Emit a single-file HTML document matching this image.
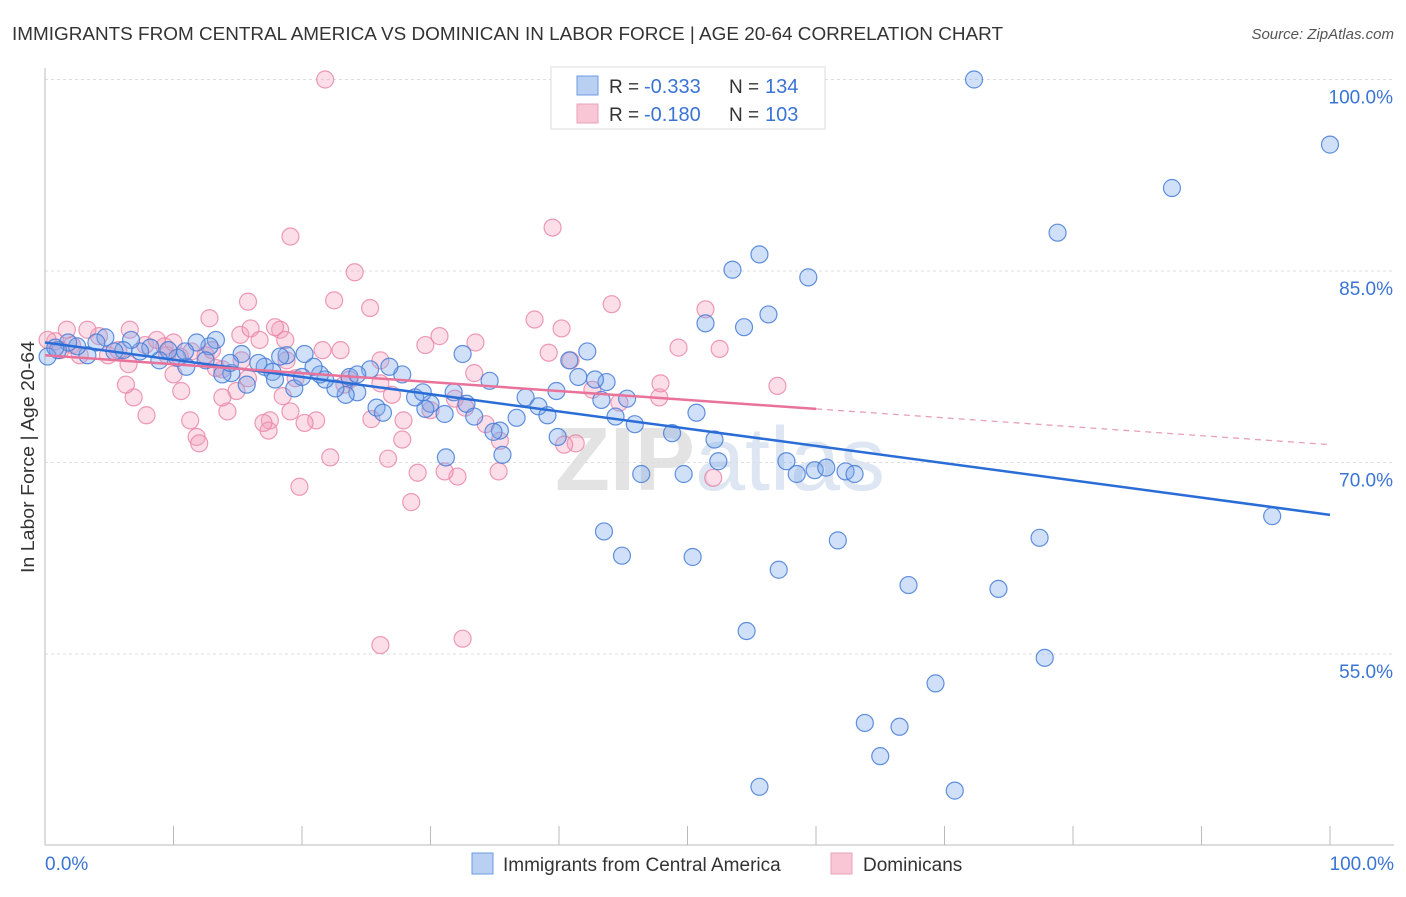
<!DOCTYPE html>
<html><head><meta charset="utf-8">
<style>
body{margin:0;background:#fff;font-family:"Liberation Sans",sans-serif;}
svg text{font-family:"Liberation Sans",sans-serif;}
</style></head>
<body>
<svg id="chart" width="1406" height="892" viewBox="0 0 1406 892" xmlns="http://www.w3.org/2000/svg">
<text x="12" y="40" font-size="18" fill="#333" textLength="991" lengthAdjust="spacingAndGlyphs">IMMIGRANTS FROM CENTRAL AMERICA VS DOMINICAN IN LABOR FORCE | AGE 20-64 CORRELATION CHART</text>
<text x="1394" y="39" font-size="15" fill="#555" font-style="italic" text-anchor="end">Source: ZipAtlas.com</text>
<text x="720" y="490" font-size="90" fill="#e3e3e3" text-anchor="middle" font-weight="bold">ZIP<tspan fill="#dde6f2" font-weight="normal">atlas</tspan></text>
<g id="grid"></g>
<g id="axes"></g>
<g id="pink"></g>
<g id="blue"></g>
<g id="lines"></g>
<text transform="translate(34,457) rotate(-90)" font-size="18" fill="#333" text-anchor="middle" textLength="232" lengthAdjust="spacingAndGlyphs">In Labor Force | Age 20-64</text>
<g>
<rect x="551" y="67" width="274" height="62" fill="#fff" stroke="#ddd"/>
<rect x="577" y="76" width="21" height="19" fill="#b9d0f3" stroke="#6b9be0"/>
<rect x="577" y="104" width="21" height="19" fill="#f8c6d5" stroke="#eaa0b8"/>
<text x="609" y="93" font-size="19" fill="#333">R =</text>
<text x="644" y="93" font-size="20" fill="#3a74d4">-0.333</text>
<text x="729" y="93" font-size="19" fill="#333">N =</text>
<text x="765" y="93" font-size="20" fill="#3a74d4">134</text>
<text x="609" y="121" font-size="19" fill="#333">R =</text>
<text x="644" y="121" font-size="20" fill="#3a74d4">-0.180</text>
<text x="729" y="121" font-size="19" fill="#333">N =</text>
<text x="765" y="121" font-size="20" fill="#3a74d4">103</text>
</g>
<g>
<rect x="472" y="853" width="21" height="21" fill="#b9d0f3" stroke="#6b9be0"/>
<text x="503" y="871" font-size="19" fill="#333">Immigrants from Central America</text>
<rect x="831" y="853" width="21" height="21" fill="#f8c6d5" stroke="#eaa0b8"/>
<text x="863" y="871" font-size="19" fill="#333">Dominicans</text>
</g>
</svg>
<script>
const blueX=[72.3,100,87.7,78.8,55.6,53.5,59.4,56.3,51.4,54.4,42.2,43.7,41.5,40.8,34.6,32.5,37.4,39.8,38.4,39.1,36.7,35.4,34.9,35.6,32.8,33.4,31.8,30.0,29.6,31.1,31.2,28.8,29.4,27.8,26.8,25.3,25.8,26.3,24.3,23.4,22.6,23.7,24.3,21.8,21.4,20.9,20.2,19.4,18.8,18.3,17.1,17.7,16.6,15.3,14.5,13.8,13.3,12.8,11.8,11.0,10.3,9.6,8.9,8.2,7.4,6.7,6.1,5.4,4.7,4.0,3.3,2.5,1.8,1.0,0.2,0.8,48.8,49.7,46.4,52.1,52.4,57.7,58.5,59.9,60.8,62.3,63.0,45.3,44.4,45.9,43.3,43.5,44.9,50.4,57.1,61.7,54.6,67.2,74.2,77.4,77.8,69.3,63.8,66.5,65.0,55.6,70.8,95.5,50.7,42.8,39.9,14.4,15.7,17.9,20.0,12.5,10.9];
const blueY=[100,94.9,91.5,88.0,86.3,85.1,84.5,81.6,80.9,80.6,78.7,76.3,76.7,78.0,76.4,78.5,75.1,75.6,74.4,73.7,73.5,72.5,72.4,70.6,74.6,73.6,75.5,74.6,74.2,73.8,70.4,75.1,75.5,76.9,77.5,77.3,74.3,73.9,75.5,75.3,75.8,76.7,76.9,76.5,76.9,77.5,78.5,75.8,78.4,78.3,77.5,77.1,77.8,78.5,77.0,76.9,79.6,79.1,79.4,77.5,78.2,78.8,78.0,79.0,78.7,79.6,78.8,78.7,79.8,79.4,78.4,79.1,79.4,78.8,78.3,79.0,72.3,69.1,69.1,71.8,70.1,70.1,69.1,69.4,69.6,69.3,69.1,75.0,73.6,73.0,74.9,64.6,62.7,62.6,61.6,63.9,56.8,60.4,60.1,64.1,54.7,52.7,49.6,49.3,47.0,44.6,44.3,65.8,73.9,76.5,72.0,77.8,76.1,76.5,76.7,78.0,78.7];
const pinkX=[21.8,39.5,19.1,24.1,22.5,15.8,25.3,44.1,51.4,38.1,40.2,52.5,49.3,57.0,47.8,44.7,39.2,40.9,42.6,30.7,33.5,29.6,33.4,32.7,34.3,35.4,35.3,32.1,31.1,29.0,28.5,27.8,27.9,26.7,25.4,26.1,32.5,19.8,22.2,21.1,20.2,19.1,18.5,17.5,17.4,17.0,15.8,14.9,14.2,13.8,12.8,11.8,11.3,12.0,10.6,10.0,9.5,7.9,6.9,6.3,6.5,4.2,3.3,2.1,1.7,0.8,0.2,1.2,2.7,4.9,5.7,6.6,7.8,8.7,9.3,10.0,10.5,11.4,12.5,13.0,15.2,16.0,16.7,18.3,18.7,17.9,21.6,18.8,19.5,23.0,23.3,26.1,27.0,30.0,31.9,52.0,41.3,40.4,47.9,26.1,23.7,15.3,13.8,13.3];
const pinkY=[100,88.4,87.7,84.9,82.7,82.6,82.1,82.4,82.0,81.2,80.5,78.9,79.0,76.0,75.1,74.7,78.6,78.0,75.7,79.9,79.4,79.2,77.0,74.3,73.0,71.7,69.3,68.9,69.3,69.2,66.9,71.8,73.3,70.3,73.4,55.7,56.2,68.1,70.4,73.3,73.1,74.0,75.2,73.3,72.5,73.1,76.6,75.6,74.0,75.1,81.3,72.0,73.3,71.5,75.6,76.9,78.4,73.7,75.1,76.1,77.7,79.9,80.4,79.2,80.4,79.5,79.6,78.8,78.4,78.4,78.8,80.4,79.2,79.6,79.1,79.4,78.3,78.7,78.4,78.8,80.0,80.5,79.6,80.4,79.6,80.6,78.8,78.0,76.6,78.8,76.1,76.2,75.3,74.1,75.0,68.8,71.5,71.4,76.2,78.0,76.5,78.0,77.3,77.4];
const blueTrend=[79.4,65.9];
const pinkTrend=[78.4,71.4];
const pinkSolidEnd=60;
const yTicks=[100,85,70,55];
const yTickLabels=["100.0%","85.0%","70.0%","55.0%"];
const xTicks=[0,10,20,30,40,50,60,70,80,90,100];

const NS="http://www.w3.org/2000/svg";
const sx=v=>45+v*12.85;
const sy=v=>79.5+(100-v)*12.767;
function mk(tag,attrs,parent){const e=document.createElementNS(NS,tag);for(const k in attrs)e.setAttribute(k,attrs[k]);parent.appendChild(e);return e;}
const grid=document.getElementById('grid'),axes=document.getElementById('axes');
yTicks.forEach((t,i)=>{
  const l=mk('line',{x1:45,x2:1394,y1:sy(t),y2:sy(t),stroke:'#ddd','stroke-dasharray':'3,3'},grid);
  
  
  const tx=mk('text',{x:1393,y:sy(t)+24,'font-size':19,fill:'#3a74d4','text-anchor':'end'},axes);
  tx.textContent=yTickLabels[i];
  
  
});
mk('line',{x1:45,x2:45,y1:68,y2:845,stroke:'#bbb'},axes);
mk('line',{x1:45,x2:1394,y1:845,y2:845,stroke:'#bbb'},axes);
xTicks.forEach(t=>{
  const l=mk('line',{x1:sx(t),x2:sx(t),y1:826,y2:845,stroke:'#bbb'},axes);
  
  
});
const x0=mk('text',{x:45,y:870,'font-size':19,fill:'#3a74d4'},axes);x0.textContent='0.0%';


const x1=mk('text',{x:1394,y:870,'font-size':19,fill:'#3a74d4','text-anchor':'end'},axes);x1.textContent='100.0%';


function pts(X,Y,g,fill,stroke,name){
  X.forEach((x,i)=>{
    const c=mk('circle',{cx:sx(x),cy:sy(Y[i]),r:8.5,fill:fill,stroke:stroke,'stroke-width':1.2},g);
    
    
  });
}
pts(pinkX,pinkY,document.getElementById('pink'),'rgba(244,160,188,0.35)','rgba(232,130,165,0.8)','dominican-point');
pts(blueX,blueY,document.getElementById('blue'),'rgba(120,165,235,0.35)','rgba(70,125,215,0.85)','central-america-point');
const lg=document.getElementById('lines');
const bl=mk('line',{x1:sx(0),y1:sy(blueTrend[0]),x2:sx(100),y2:sy(blueTrend[1]),stroke:'#2a6dd6','stroke-width':2.5},lg);


const pv=x=>pinkTrend[0]+(pinkTrend[1]-pinkTrend[0])*x/100;
const pl=mk('line',{x1:sx(0),y1:sy(pv(0)),x2:sx(pinkSolidEnd),y2:sy(pv(pinkSolidEnd)),stroke:'#e8729a','stroke-width':2.5},lg);


const pd=mk('line',{x1:sx(pinkSolidEnd),y1:sy(pv(pinkSolidEnd)),x2:sx(100),y2:sy(pv(100)),stroke:'#e8a0b8','stroke-width':1.3,'stroke-dasharray':'6,5'},lg);


</script>
</body></html>
